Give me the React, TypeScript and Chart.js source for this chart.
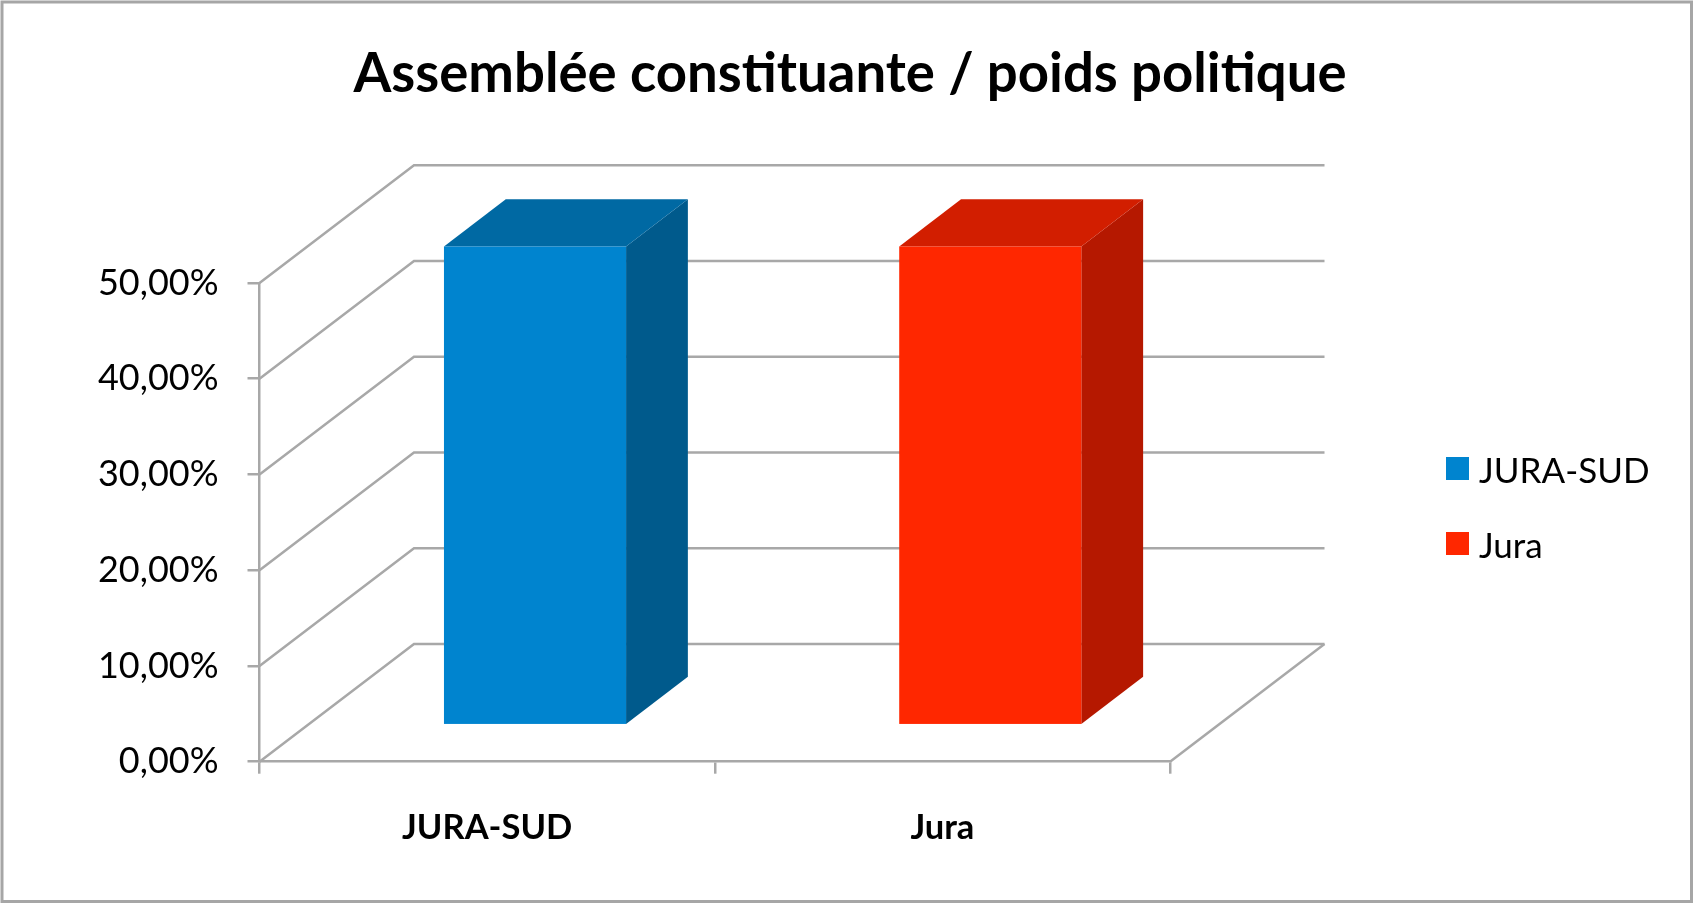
import React, { useEffect, useRef } from "react";
import { Chart, registerables } from "chart.js";

Chart.register(...registerables);

// ---- data ----
const TITLE = "Assemblée constituante / poids politique";
const CATEGORIES = ["JURA-SUD", "Jura"];
const SERIES_NAMES = ["JURA-SUD", "Jura"];
const JURA_SUD_VALUES: (number | null)[] = [0.5, null];
const JURA_VALUES: (number | null)[] = [null, 0.5];
const Y_MIN = 0;
const Y_MAX = 0.5;
const Y_STEP = 0.1;

// ---- style ----
const FONT = "Lato, 'Open Sans', sans-serif";
const GRID = "#A8A8A8";
const FACE = [
  { front: "#0084CF", top: "#0069A3", side: "#005A8C" },
  { front: "#FF2700", top: "#D21E00", side: "#B51800" },
];
const DEPTH_X = 154.5;
const DEPTH_Y = 117.8;
const BAR_FRONT = 0.31;
const BAR_BACK = 0.71;

const fmtPct = (v: number) => (v * 100).toFixed(2).replace(".", ",") + "%";

const threeD = {
  id: "threeD",
  beforeDatasetsDraw(chart: any) {
    const { ctx, chartArea } = chart;
    const y = chart.scales.y;
    ctx.save();
    ctx.strokeStyle = GRID;
    ctx.lineWidth = 2.5;
    ctx.lineJoin = "miter";
    y.ticks.forEach((t: any) => {
      const py = y.getPixelForValue(t.value);
      ctx.beginPath();
      ctx.moveTo(chartArea.left, py);
      ctx.lineTo(chartArea.left + DEPTH_X, py - DEPTH_Y);
      ctx.lineTo(chartArea.right + DEPTH_X, py - DEPTH_Y);
      ctx.stroke();
    });
    const pb = y.getPixelForValue(0);
    ctx.beginPath();
    ctx.moveTo(chartArea.right, pb);
    ctx.lineTo(chartArea.right + DEPTH_X, pb - DEPTH_Y);
    ctx.stroke();
    ctx.restore();
  },
  beforeDatasetDraw() {
    return false;
  },
  afterDatasetsDraw(chart: any) {
    const { ctx } = chart;
    ctx.save();
    chart.data.datasets.forEach((ds: any, di: number) => {
      const meta = chart.getDatasetMeta(di);
      const c = FACE[di];
      meta.data.forEach((el: any, i: number) => {
        if (ds.data[i] == null) return;
        const p = el.getProps(["x", "y", "base", "width"], true);
        const fx = BAR_FRONT * DEPTH_X;
        const fy = BAR_FRONT * DEPTH_Y;
        const dx = (BAR_BACK - BAR_FRONT) * DEPTH_X;
        const dy = (BAR_BACK - BAR_FRONT) * DEPTH_Y;
        const x0 = p.x - p.width / 2 + fx;
        const x1 = p.x + p.width / 2 + fx;
        const yt = p.y - fy;
        const yb = p.base - fy;
        // side
        ctx.fillStyle = c.side;
        ctx.beginPath();
        ctx.moveTo(x1, yt);
        ctx.lineTo(x1 + dx, yt - dy);
        ctx.lineTo(x1 + dx, yb - dy);
        ctx.lineTo(x1, yb);
        ctx.closePath();
        ctx.fill();
        // top
        ctx.fillStyle = c.top;
        ctx.beginPath();
        ctx.moveTo(x0, yt);
        ctx.lineTo(x1, yt);
        ctx.lineTo(x1 + dx, yt - dy);
        ctx.lineTo(x0 + dx, yt - dy);
        ctx.closePath();
        ctx.fill();
        // front
        ctx.fillStyle = c.front;
        ctx.fillRect(x0, yt, x1 - x0, yb - yt);
      });
    });
    ctx.restore();
  },
  afterDraw(chart: any) {
    const { ctx, width, height } = chart;
    ctx.save();
    // frame
    ctx.strokeStyle = "#A6A6A6";
    ctx.lineWidth = 3;
    ctx.strokeRect(2, 2, width - 4.5, height - 4.5);
    // title
    ctx.fillStyle = "#000";
    ctx.font = `bold 54.5px ${FONT}`;
    ctx.textAlign = "center";
    ctx.textBaseline = "alphabetic";
    ctx.fillText(TITLE, width / 2 + 3, 92);
    // legend
    ctx.font = `35px ${FONT}`;
    ctx.textAlign = "left";
    chart.data.datasets.forEach((ds: any, i: number) => {
      const top = 457 + i * 75;
      ctx.fillStyle = ds.backgroundColor;
      ctx.fillRect(1446, top, 23, 23);
      ctx.fillStyle = "#000";
      ctx.fillText(ds.label, 1479, top + 26);
    });
    ctx.restore();
  },
};

export default function App() {
  const ref = useRef<HTMLCanvasElement>(null);
  useEffect(() => {
    if (!ref.current) return;
    const chart = new Chart(ref.current, {
      type: "bar",
      data: {
        labels: CATEGORIES,
        datasets: [
          { label: SERIES_NAMES[0], data: JURA_SUD_VALUES, backgroundColor: FACE[0].front },
          { label: SERIES_NAMES[1], data: JURA_VALUES, backgroundColor: FACE[1].front },
        ],
      },
      options: {
        animation: false,
        responsive: false,
        devicePixelRatio: 1,
        skipNull: true,
        layout: { padding: { left: 0, top: 283, right: 524, bottom: 0 } },
        datasets: { bar: { categoryPercentage: 1, barPercentage: 0.4 } },
        plugins: { legend: { display: false }, title: { display: false }, tooltip: { enabled: false } },
        scales: {
          x: {
            type: "category",
            offset: true,
            afterFit: (s: any) => { s.height = 142.3; },
            grid: { drawOnChartArea: false, offset: true, tickLength: 12, color: GRID, lineWidth: 2.5 },
            border: { display: true, color: GRID, width: 2.5 },
            ticks: { color: "#000", padding: 33, font: { family: FONT, size: 34.5, weight: "bold" } },
          },
          y: {
            min: Y_MIN,
            max: Y_MAX,
            afterFit: (s: any) => { s.width = 259.5; },
            grid: { drawOnChartArea: false, tickLength: 12, color: GRID, lineWidth: 2.5 },
            border: { display: true, color: GRID, width: 2.5 },
            ticks: {
              stepSize: Y_STEP,
              color: "#000",
              padding: 29,
              font: { family: FONT, size: 36 },
              callback: (v: any) => fmtPct(Number(v)),
            },
          },
        },
      } as any,
      plugins: [threeD],
    });
    return () => chart.destroy();
  }, []);
  return (
    <div style={{ position: "absolute", left: 0, top: 0, width: 1694, height: 904 }}>
      <canvas ref={ref} width={1694} height={904} style={{ display: "block" }} />
    </div>
  );
}
